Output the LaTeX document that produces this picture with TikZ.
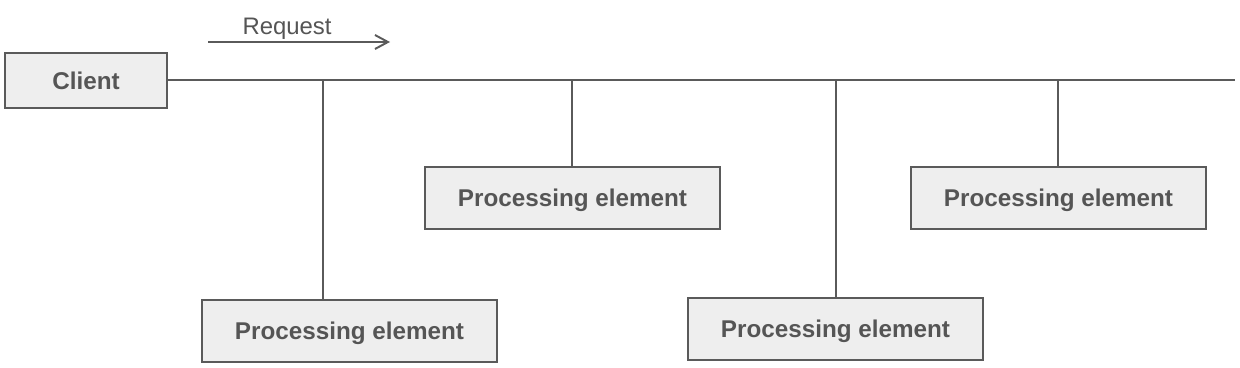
\documentclass[tikz,border=0pt]{standalone}
\usepackage{fontspec}
\setmainfont{Liberation Sans}
\usepackage{xcolor}
\usepackage{tikz}
\usetikzlibrary{arrows.meta,positioning}
\definecolor{linegray}{HTML}{5A5A5A}
\definecolor{boxgray}{HTML}{EEEEEE}
\definecolor{textgray}{HTML}{555555}

\begin{document}
\begin{tikzpicture}[x=0.02cm,y=-0.02cm,line width=1.1pt,draw=linegray,
  pebox/.style={draw=linegray,fill=boxgray,text=textgray,font=\fontsize{13.8}{16}\selectfont\bfseries,text depth=0pt,minimum width=5.9cm,minimum height=1.24cm,inner sep=0pt}]
\useasboundingbox (0,0) rectangle (1240,368);
\node[pebox,minimum width=3.24cm,minimum height=1.1cm] (client) at (86,80.5) {Client};
\node[pebox] (pe1) at (349.5,331) {Processing element};
\node[pebox] (pe2) at (572.5,198) {Processing element};
\node[pebox] (pe3) at (835.5,329) {Processing element};
\node[pebox] (pe4) at (1058.5,198) {Processing element};
\coordinate (busend) at (1235,80);
\coordinate (tap1) at (323,80);
\coordinate (tap2) at (572,80);
\coordinate (tap3) at (836,80);
\coordinate (tap4) at (1058,80);
\draw[linegray] (client.east |- busend) -- (busend);
\draw[linegray] (tap1) -- (tap1 |- pe1.north);
\draw[linegray] (tap2) -- (tap2 |- pe2.north);
\draw[linegray] (tap3) -- (tap3 |- pe3.north);
\draw[linegray] (tap4) -- (tap4 |- pe4.north);
\coordinate (reqstart) at (208,42);
\coordinate (reqend) at (390,42);
\draw[linegray,-{Straight Barb[length=2.6mm,width=2.8mm]}] (reqstart) -- (reqend);
\node[text=textgray,font=\fontsize{13.6}{16}\selectfont,text depth=0pt] (req) at (287,26) {Request};
\end{tikzpicture}
\end{document}
